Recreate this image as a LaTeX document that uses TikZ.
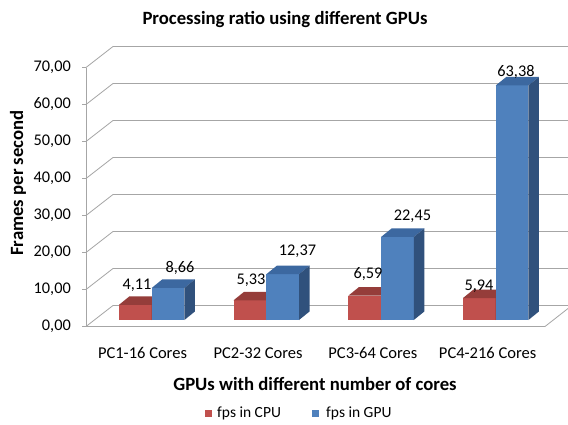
\documentclass[tikz,border=0pt]{standalone}
\usepackage{fontspec}
\setmainfont{Carlito}
\definecolor{redfront}{HTML}{C0504D}
\definecolor{redtop}{HTML}{953D3A}
\definecolor{redside}{HTML}{8C3836}
\definecolor{bluefront}{HTML}{4F81BD}
\definecolor{bluetop}{HTML}{3C68A0}
\definecolor{blueside}{HTML}{30517C}
\definecolor{gridgray}{HTML}{A6A6A6}
\newcommand\mybar[5]{%
  \pgfmathsetmacro\yt{320-3.7*#2}%
  \fill[#3] (#1,320) rectangle ({#1+32.7},\yt);
  \fill[#4] (#1,\yt) -- ({#1+32.7},\yt) -- ({#1+43.2},{\yt-8.5}) -- ({#1+10.5},{\yt-8.5}) -- cycle;
  \fill[#5] ({#1+32.7},320) -- ({#1+32.7},\yt) -- ({#1+43.2},{\yt-8.5}) -- ({#1+43.2},311.5) -- cycle;
}
\begin{document}
\begin{tikzpicture}[x=1pt,y=-1pt,
  grid/.style={draw=gridgray,line width=0.8pt},
  ticklab/.style={font=\fontsize{16.3}{19}\selectfont,anchor=east,inner sep=0pt},
  vallab/.style={font=\fontsize{16.3}{19}\selectfont,inner sep=0pt},
  catlab/.style={font=\fontsize{16.5}{19}\selectfont,inner sep=0pt},
  titlelab/.style={font=\fontsize{18.7}{22}\selectfont\bfseries,inner sep=0pt},
  leglab/.style={font=\fontsize{15.5}{18}\selectfont,anchor=west,inner sep=0pt}]
\useasboundingbox (0,0) rectangle (568,425);
\fill[white] (0,0) rectangle (568,425);
% back wall gridlines
\foreach \v in {1,...,7}{
  \pgfmathsetmacro\yy{326.5-37*\v}
  \draw[grid] (86,\yy) -- (113,{\yy-21}) -- (568,{\yy-21});
  \draw[grid] (82,\yy) -- (86,\yy);
}
% floor
\draw[grid] (82,326.5) -- (545,326.5) -- (568,308.5);
\draw[grid] (86,326.5) -- (113,305.5) -- (568,305.5);
% axis
\draw[grid] (86,68) -- (86,326.5);
% tick labels
\foreach \v/\t in {0/{0,00},1/{10,00},2/{20,00},3/{30,00},4/{40,00},5/{50,00},6/{60,00},7/{70,00}}{
  \node[ticklab] (t\v) at (71,{326.5-37*\v}) {\t};
}
% bars
\mybar{119}{4.11}{redfront}{redtop}{redside}
\mybar{151.7}{8.66}{bluefront}{bluetop}{blueside}
\mybar{233.6}{5.33}{redfront}{redtop}{redside}
\mybar{266.3}{12.37}{bluefront}{bluetop}{blueside}
\mybar{348.4}{6.59}{redfront}{redtop}{redside}
\mybar{381.1}{22.45}{bluefront}{bluetop}{blueside}
\mybar{463}{5.94}{redfront}{redtop}{redside}
\mybar{495.7}{63.38}{bluefront}{bluetop}{blueside}
% value labels
\node[vallab] (v1) at (137,285.7) {4,11};
\node[vallab] (v2) at (180,268) {8,66};
\node[vallab] (v3) at (251,280) {5,33};
\node[vallab] (v4) at (297.5,251.7) {12,37};
\node[vallab] (v5) at (368,274) {6,59};
\node[vallab] (v6) at (412.5,216) {22,45};
\node[vallab] (v7) at (479,286.5) {5,94};
\node[vallab] (v8) at (516,72) {63,38};
% category labels
\node[catlab] (c1) at (142.5,353) {PC1-16 Cores};
\node[catlab] (c2) at (258.1,353) {PC2-32 Cores};
\node[catlab] (c3) at (372.9,353) {PC3-64 Cores};
\node[catlab] (c4) at (487.6,353) {PC4-216 Cores};
% titles
\node[titlelab] (title) at (285,20) {Processing ratio using different GPUs};
\node[titlelab] (xtitle) at (315,384) {GPUs with different number of cores};
\node[titlelab,rotate=90] (ytitle) at (18,183) {Frames per second};
% legend
\fill[redfront] (205,409.5) rectangle (212,416.5);
\node[leglab] (l1) at (217,413) {fps in CPU};
\fill[bluefront] (312,409.5) rectangle (319,416.5);
\node[leglab] (l2) at (326,413) {fps in GPU};
\end{tikzpicture}
\end{document}
